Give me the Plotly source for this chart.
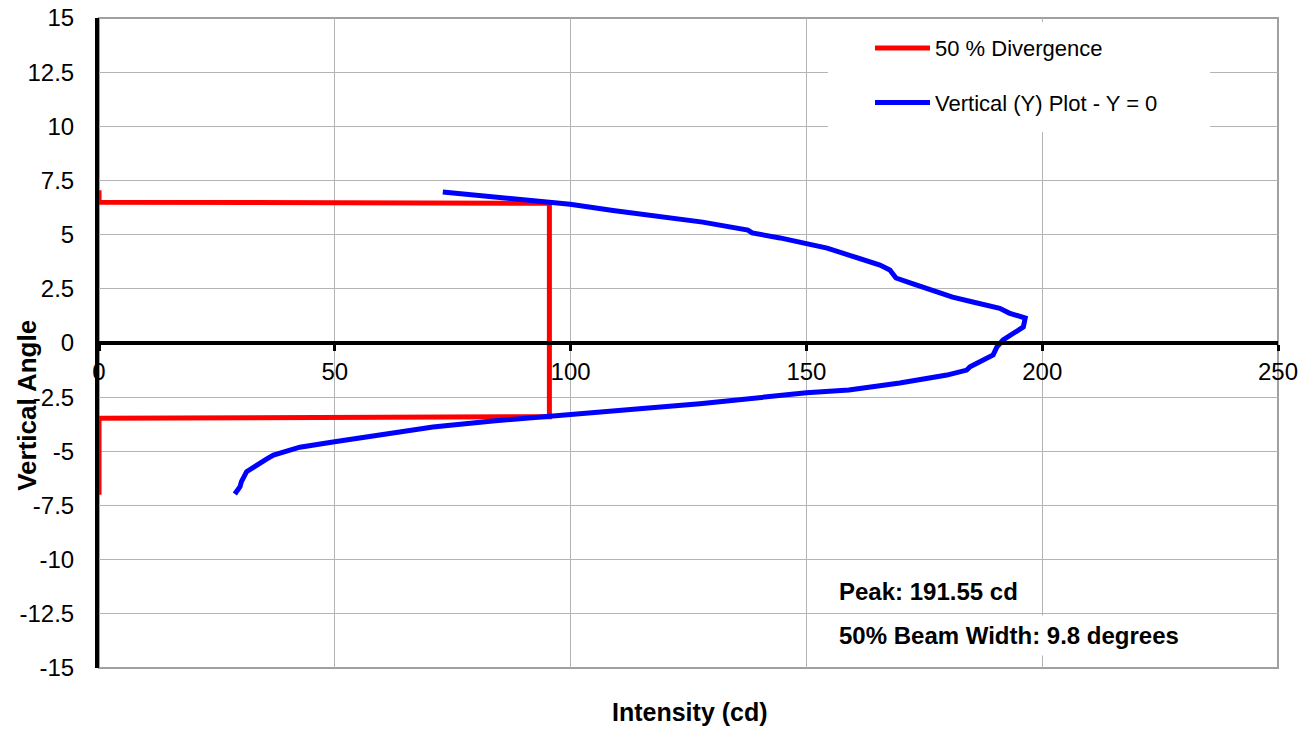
import plotly.graph_objects as go

# 50 % divergence outline (intensity cd, vertical angle deg)
div_intensity = [0, 0, 95.5, 95.5, 0, 0]
div_angle = [7.05, 6.5, 6.45, -3.4, -3.47, -7.0]

# Vertical (Y) plot - Y = 0
vert_angle = [6.97, 6.7, 6.4, 6.12, 5.86, 5.58, 5.21, 5.08, 4.85, 4.61, 4.38, 4.06,
              3.8, 3.6, 3.37, 3.0, 2.77, 2.45, 2.12, 1.89, 1.6, 1.38, 1.15, 0.74, 0.46,
              0.14, -0.18, -0.55, -0.78, -1.1, -1.25, -1.48, -1.85, -2.17, -2.3, -2.54,
              -2.8, -3.0, -3.18, -3.37, -3.6, -3.88, -4.1, -4.33, -4.57, -4.81, -4.98,
              -5.17, -5.35, -5.55, -5.74, -5.94, -6.4, -6.63, -6.97]
vert_intensity = [72.9, 86.0, 99.9, 109.0, 117.5, 128.0, 137.6, 138.5, 144.4, 149.3,
                  154.4, 159.0, 162.5, 165.6, 167.7, 169.0, 172.0, 176.5, 181.0, 185.3,
                  191.0, 193.0, 196.4, 196.0, 193.8, 191.7, 190.4, 189.6, 187.5, 184.7,
                  184.0, 179.8, 169.8, 159.0, 150.0, 140.0, 127.4, 116.5, 106.2, 95.6,
                  83.5, 70.8, 63.5, 56.8, 49.6, 42.6, 39.8, 37.0, 35.6, 34.1, 32.7,
                  31.3, 30.2, 29.9, 28.8]

x_ticks = [0, 50, 100, 150, 200, 250]
y_ticks = [-15, -12.5, -10, -7.5, -5, -2.5, 0, 2.5, 5, 7.5, 10, 12.5, 15]

FONT = "Liberation Sans, Arial, sans-serif"

fig = go.Figure()
fig.add_trace(go.Scatter(x=div_intensity, y=div_angle, mode="lines",
                         name="50 % Divergence", legendgroup="a",
                         line=dict(color="#ff0000", width=5)))
fig.add_trace(go.Scatter(x=vert_intensity, y=vert_angle, mode="lines",
                         name="Vertical (Y) Plot - Y = 0", legendgroup="b",
                         line=dict(color="#0000ff", width=5)))

fig.update_layout(
    width=1309, height=729,
    margin=dict(l=99, r=31, t=18, b=61, autoexpand=False),
    paper_bgcolor="white", plot_bgcolor="white",
    font=dict(family=FONT, color="black"),
    showlegend=True,
    legend=dict(x=(870 - 99) / 1179, y=0.986, xanchor="left", yanchor="top",
                bgcolor="white", font=dict(size=22, family=FONT),
                itemwidth=55,
                traceorder="grouped", tracegroupgap=23),
    xaxis=dict(range=[0, 250], tickvals=x_ticks, ticktext=[str(v) for v in x_ticks],
               anchor="free", position=0.5, automargin=False,
               showline=True, linecolor="black", linewidth=4,
               ticks="outside", ticklen=6, tickwidth=3, tickcolor="black",
               showgrid=True, gridcolor="#b4b4b4", gridwidth=1,
               zeroline=False, tickfont=dict(size=24, family=FONT)),
    yaxis=dict(range=[-15, 15], tickvals=y_ticks, automargin=False,
               ticktext=[f"{v:g}" for v in y_ticks],
               showline=True, linecolor="black", linewidth=4,
               ticks="", ticklabelstandoff=16,
               showgrid=True, gridcolor="#b4b4b4", gridwidth=1,
               zeroline=False, tickfont=dict(size=24, family=FONT)),
    shapes=[
        dict(type="rect", xref="paper", yref="paper", x0=0, y0=0, x1=1, y1=1,
             line=dict(color="#a0a0a0", width=2), layer="below"),
        # white backdrop of the legend box
        dict(type="rect", xref="paper", yref="paper",
             x0=(828 - 99) / 1179, x1=(1210 - 99) / 1179,
             y0=(668 - 132) / 650, y1=(668 - 22) / 650,
             line=dict(width=0), fillcolor="white", layer="above"),
    ],
    annotations=[
        dict(text="<b>Intensity (cd)</b>", xref="paper", yref="paper", x=0.501, y=0,
             yshift=-44, showarrow=False, font=dict(size=25, family=FONT),
             xanchor="center", yanchor="middle"),
        dict(text="<b>Vertical Angle</b>", xref="paper", yref="y", x=0, y=-2.9,
             xshift=-72, showarrow=False, textangle=-90, font=dict(size=26, family=FONT),
             xanchor="center", yanchor="middle"),
        dict(text="<b>Peak: 191.55 cd</b>", xref="x", yref="y", x=155.5, y=-11.45,
             showarrow=False, xanchor="left", yanchor="middle", bgcolor="white",
             borderpad=6, font=dict(size=24, family=FONT)),
        dict(text="<b>50% Beam Width: 9.8 degrees</b>", xref="x", yref="y", x=155.5, y=-13.5,
             showarrow=False, xanchor="left", yanchor="middle", bgcolor="white",
             borderpad=6, font=dict(size=24, family=FONT)),
    ],
)

fig.write_html("out.html")
